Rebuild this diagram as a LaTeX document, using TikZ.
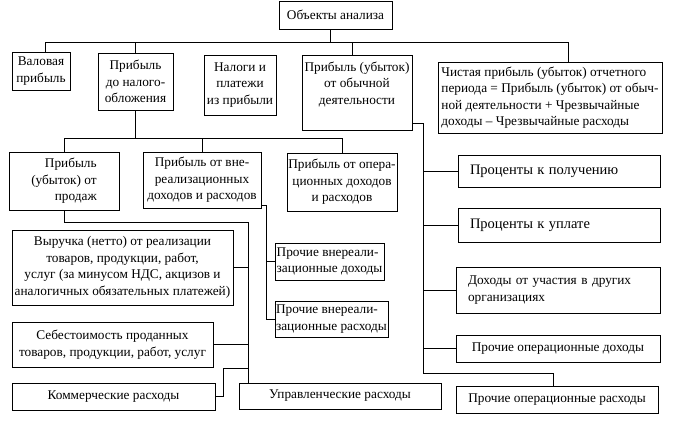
\documentclass[tikz,border=0pt]{standalone}
\usepackage{fontspec}
\setmainfont{Liberation Serif}
\newcommand\fs{\fontsize{13.3}{16.5}\selectfont}
\begin{document}
\begin{tikzpicture}[x=1pt,y=-1pt,
 box/.style={draw, line width=0.9pt, inner sep=0pt, align=center, font=\fs},
 lbox/.style={draw, line width=0.9pt, inner ysep=0pt, inner xsep=12pt, align=left, font=\fs},
 conn/.style={line width=0.7pt}]
\useasboundingbox (0,0) rectangle (677,433);
% top row
\node[box, minimum width=113pt, minimum height=28pt] (obj) at (335.5,15) {Объекты анализа};
\node[box, minimum width=58pt, minimum height=38pt] (val) at (41,71) {Валовая\\прибыль};
\node[box, minimum width=75pt, minimum height=57pt] (pdn) at (135.5,81.5) {Прибыль\\до налого-\\обложения};
\node[box, minimum width=72pt, minimum height=60pt] (nal) at (240,85) {Налоги и\\платежи\\из прибыли};
\node[box, minimum width=110pt, minimum height=75pt] (obd) at (357,92.5) {Прибыль (убыток)\\от обычной\\деятельности\\[3pt]};
\node[box, align=left, minimum width=224pt, minimum height=71pt] (chp) at (550,97.5) {Чистая прибыль (убыток) отчетного\\периода = Прибыль (убыток) от обыч-\\ной деятельности + Чрезвычайные\\доходы -- Чрезвычайные расходы};
% second row
\node[box, align=right, minimum width=110pt, minimum height=58pt] (prod) at (64,181) {Прибыль\\(убыток) от\\продаж};
\node[box, minimum width=118pt, minimum height=56pt] (vnr) at (202,180) {Прибыль от вне-\\реализационных\\доходов и расходов};
\node[box, minimum width=110pt, minimum height=58pt] (opr) at (342,182) {Прибыль от опера-\\ционных доходов\\и расходов};
% left column
\node[box, minimum width=221pt, minimum height=75pt] (vyr) at (122.5,267.5) {Выручка (нетто) от реализации\\товаров, продукции, работ,\\услуг (за минусом НДС, акцизов и\\аналогичных обязательных платежей)};
\node[box, minimum width=201pt, minimum height=45pt] (seb) at (112.5,344.5) {Себестоимость проданных\\товаров, продукции, работ, услуг};
\node[box, minimum width=203pt, minimum height=27pt] (kom) at (113.5,396.5) {Коммерческие расходы};
\node[box, minimum width=202pt, minimum height=26pt] (upr) at (340,396) {Управленческие расходы};
% middle
\node[box, align=left, minimum width=109pt, minimum height=37pt] (pvd) at (329.5,261.5) {Прочие внереали-\\зационные доходы};
\node[box, align=left, minimum width=113pt, minimum height=36pt] (pvr) at (331.5,319) {Прочие внереали-\\зационные расходы};
% right column
\node[lbox, text width=178pt, minimum height=32pt] (ppol) at (559,171) {\fontsize{14.5}{16.5}\selectfont Проценты к получению};
\node[lbox, text width=178pt, minimum height=34pt] (pupl) at (559,225) {\fontsize{14.5}{16.5}\selectfont Проценты к уплате};
\node[lbox, text width=180pt, minimum height=46pt] (duch) at (558,290) {Доходы от участия в других\\организациях};
\node[box, minimum width=204pt, minimum height=27pt] (pod) at (558,348.5) {Прочие операционные доходы};
\node[box, minimum width=202pt, minimum height=27pt] (por) at (557,399.5) {Прочие операционные расходы};
% connectors: top bus
\coordinate (tL) at (45,42);
\coordinate (tR) at (568,42);
\draw[conn] (val.north -| tL) -- (tL) -- (tR) -- (chp.north -| tR);
\draw[conn] (obj.south) ++(-5,0) coordinate (objb) -- (objb |- tL);
\draw[conn] (pdn.north) -- (pdn.north |- tL);
\draw[conn] (obd.north) ++(-5,0) coordinate (obdt) -- (obdt |- tL);
% second bus
\coordinate (m) at (136,138);
\draw[conn] (pdn.south) -- (pdn.south |- m);
\draw[conn] (prod.north) -- (prod.north |- m) -- (opr.north |- m) -- (opr.north);
\draw[conn] (vnr.north) -- (vnr.north |- m);
% sales bus
\coordinate (s) at (248,222);
\draw[conn] (prod.south) -- (prod.south |- s) -- (s) -- (upr.north -| s);
\draw[conn] (vyr.east) -- (vyr.east -| s);
\draw[conn] (seb.east) -- (seb.east -| s);
\coordinate (k) at (223,368);
\draw[conn] (kom.east) -| (k) -- (k -| s);
% non-sales bus
\coordinate (v) at (266,205);
\draw[conn] (vnr.east |- v) -- (v) -- (v |- pvr.west) -- (pvr.west);
\draw[conn] (v |- pvd.west) -- (pvd.west);
% ordinary activity bus
\coordinate (o) at (423,123);
\coordinate (ob) at (423,373);
\coordinate (oc) at (553,373);
\draw[conn] (obd.east |- o) -- (o) -- (ob) -- (oc) -- (por.north -| oc);
\draw[conn] (o |- ppol.west) -- (ppol.west);
\draw[conn] (o |- pupl.west) -- (pupl.west);
\draw[conn] (o |- duch.west) -- (duch.west);
\draw[conn] (o |- pod.west) -- (pod.west);
\end{tikzpicture}
\end{document}
